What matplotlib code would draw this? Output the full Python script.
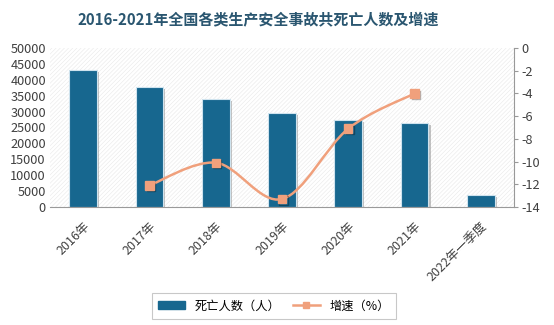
import matplotlib
matplotlib.use("Agg")
import matplotlib.pyplot as plt
import numpy as np
from matplotlib.path import Path
from matplotlib.patches import PathPatch, Rectangle
import matplotlib.patheffects as pe
from matplotlib.lines import Line2D

plt.rcParams['font.family'] = ['Noto Sans CJK SC', 'DejaVu Sans']
plt.rcParams['hatch.linewidth'] = 0.4

categories = ['2016年', '2017年', '2018年', '2019年', '2020年', '2021年', '2022年一季度']
deaths = [43062, 37852, 34046, 29519, 27412, 26307, 3784]
growth_idx = [1, 2, 3, 4, 5]
growth = [-12.1, -10.1, -13.3, -7.1, -4.0]
left_ticks = list(range(0, 50001, 5000))
right_ticks = list(range(-14, 1, 2))

bar_color = '#17678f'
line_color = '#f0a07c'
text_color = '#404040'

fig = plt.figure(figsize=(5.54, 3.25), dpi=100)
W, H = 554, 325
ax = fig.add_axes([50/W, 1-207/H, 464/W, 159/H])
ax2 = ax.twinx()

# hatched background
ax.add_patch(Rectangle((0, 0), 1, 1, transform=ax.transAxes, facecolor='white',
                       edgecolor='#e8e8e8', hatch='////////', lw=0, zorder=0))

x = np.arange(len(categories))
ax.bar(x, deaths, width=0.42, color=bar_color, edgecolor='#cfe3ee', linewidth=0.8, zorder=2,
       path_effects=[pe.SimplePatchShadow(offset=(1.5, -1.5), shadow_rgbFace='#888888', alpha=0.5), pe.Normal()])
ax.set_xlim(-0.5, len(categories) - 0.5)
ax.set_ylim(0, 50000)
ax.set_yticks(left_ticks)
ax.set_yticklabels([str(v) for v in left_ticks], fontsize=9.2, color=text_color)
ax.tick_params(axis='y', length=0, pad=3)
ax.set_xticks(x)
ax.set_xticklabels(categories, rotation=45, ha='right', rotation_mode='anchor', fontsize=9, color=text_color)
ax.tick_params(axis='x', length=0, pad=9)
for s in ['top', 'left', 'right']:
    ax.spines[s].set_visible(False)
ax.spines['bottom'].set_color('#999999')
ax.spines['bottom'].set_linewidth(0.8)

ax2.set_ylim(-14, 0)
ax2.set_yticks(right_ticks)
ax2.set_yticklabels([str(v) for v in right_ticks], fontsize=9.2, color=text_color)
ax2.tick_params(axis='y', length=3, color='#999999', pad=2)
for s in ['top', 'left', 'bottom']:
    ax2.spines[s].set_visible(False)
ax2.spines['right'].set_color('#999999')
ax2.spines['right'].set_linewidth(0.8)

# smooth line (Catmull-Rom rendering through data points)
px = np.array(growth_idx, dtype=float)
py = np.array(growth, dtype=float)
verts = [(px[0], py[0])]
codes = [Path.MOVETO]
n = len(px)
for i in range(n - 1):
    p0 = np.array([px[max(i-1, 0)], py[max(i-1, 0)]])
    p1 = np.array([px[i], py[i]])
    p2 = np.array([px[i+1], py[i+1]])
    p3 = np.array([px[min(i+2, n-1)], py[min(i+2, n-1)]])
    c1 = p1 + (p2 - p0) / 6.0
    c2 = p2 - (p3 - p1) / 6.0
    verts += [tuple(c1), tuple(c2), tuple(p2)]
    codes += [Path.CURVE4] * 3
ax2.add_patch(PathPatch(Path(verts, codes), facecolor='none', edgecolor=line_color, lw=1.8, zorder=3))
ax2.plot(px, py, linestyle='none', marker='s', markersize=6, color=line_color, zorder=4,
         path_effects=[pe.SimpleLineShadow(offset=(1, -1), alpha=0.3), pe.Normal()])

fig.text(258/W, 1-19/H, '2016-2021年全国各类生产安全事故共死亡人数及增速', ha='center', va='center',
         fontsize=10.8, fontweight='bold', color='#2a5670')

handles = [Rectangle((0, 0), 1, 1, color=bar_color),
           Line2D([], [], color=line_color, marker='s', markersize=5, lw=1.8)]
leg = fig.legend(handles, ['死亡人数（人）', '增速（%）'], loc='center', bbox_to_anchor=(274/W, 1-306/H),
                 ncol=2, fontsize=8.8, frameon=True, fancybox=False, edgecolor='#bbbbbb',
                 handlelength=2.2, handleheight=0.6, columnspacing=1.0, borderpad=0.5)
leg.get_frame().set_linewidth(0.8)

fig.savefig('out.png', dpi=100)
